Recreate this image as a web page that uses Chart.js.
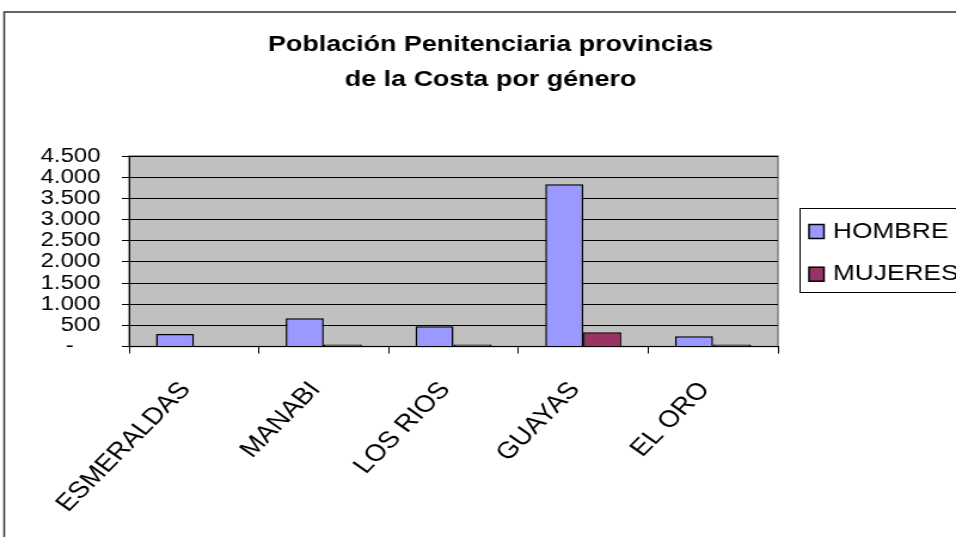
<!DOCTYPE html>
<html lang="es">
<head>
<meta charset="utf-8">
<title>Población Penitenciaria provincias de la Costa por género</title>
<script src="https://cdn.jsdelivr.net/npm/chart.js@4.4.1/dist/chart.umd.min.js"></script>
<style>
  html, body { margin: 0; padding: 0; background: #fff; }
  #chart { display: block; }
</style>
</head>
<body>
<!-- el lienzo se dibuja a 800px y se estira a 956px, igual que la imagen original -->
<canvas id="chart" width="800" height="537" style="width:956px;height:537px"></canvas>
<script>
// ── Datos ────────────────────────────────────────────────────────────────────
const PROVINCIAS = ['ESMERALDAS', 'MANABI', 'LOS RIOS', 'GUAYAS', 'EL ORO'];
const SERIES     = ['HOMBRE', 'MUJERES'];
const HOMBRE     = [295, 666, 477, 3832, 241];
const MUJERES    = [0, 50, 45, 335, 45];
const TITULO     = ['Población Penitenciaria provincias', 'de la Costa por género'];
const Y_MIN = 0;
const Y_MAX = 4500;
const Y_PASO = 500;

// ── Estilo ───────────────────────────────────────────────────────────────────
const FONT          = "'Liberation Sans', Arial, sans-serif";
const COLOR_HOMBRE  = '#9999ff';
const COLOR_MUJERES = '#993366';
const FONDO_PLOT    = '#c0c0c0';

// miles con punto, cero como guion (formato contable)
function formatoMiles(v) {
  if (v === 0) return '-    ';
  return String(v).replace(/\B(?=(\d{3})+(?!\d))/g, '.');
}

// ── Marco, fondo gris, título y leyenda ─────────────────────────────────────
const marcoPlugin = {
  id: 'marco',
  beforeDraw: function (chart) {
    var ctx = chart.ctx, a = chart.chartArea;
    ctx.save();
    ctx.fillStyle = '#fff';
    ctx.fillRect(0, 0, chart.width, chart.height);

    ctx.strokeStyle = '#333';
    ctx.lineWidth = 1.5;
    ctx.beginPath();
    ctx.moveTo(3.5, chart.height);
    ctx.lineTo(3.5, 12);
    ctx.lineTo(chart.width, 12);
    ctx.stroke();

    ctx.fillStyle = FONDO_PLOT;
    ctx.fillRect(a.left, a.top, a.right - a.left, a.bottom - a.top);
    ctx.strokeStyle = '#808080';
    ctx.lineWidth = 1.5;
    ctx.strokeRect(a.left, a.top, a.right - a.left, a.bottom - a.top);
    ctx.restore();
  },
  afterDraw: function (chart) {
    var ctx = chart.ctx;
    ctx.save();
    ctx.fillStyle = '#000';
    ctx.textAlign = 'center';
    ctx.textBaseline = 'alphabetic';
    ctx.font = 'bold 22.5px ' + FONT;
    TITULO.forEach(function (linea, i) {
      ctx.fillText(linea, 410.5, 50.7 + i * 35.5);
    });

    // leyenda
    ctx.strokeStyle = '#000';
    ctx.lineWidth = 1;
    ctx.strokeRect(669.5, 208.5, 200, 84);
    ctx.textAlign = 'left';
    ctx.font = '22px ' + FONT;
    chart.data.datasets.forEach(function (ds, i) {
      var base = 237.5 + i * 42.7;
      ctx.fillStyle = ds.backgroundColor;
      ctx.fillRect(677, base - 13, 12.5, 14);
      ctx.lineWidth = 1.5;
      ctx.strokeRect(677, base - 13, 12.5, 14);
      ctx.fillStyle = '#000';
      ctx.fillText(ds.label, 697, base);
    });
    ctx.restore();
  },
};

new Chart(document.getElementById('chart'), {
  type: 'bar',
  data: {
    labels: PROVINCIAS,
    datasets: [
      {
        label: SERIES[0], data: HOMBRE,
        backgroundColor: COLOR_HOMBRE, borderColor: '#000', borderWidth: 1.5,
        categoryPercentage: 0.586, barPercentage: 1,
      },
      {
        label: SERIES[1], data: MUJERES,
        backgroundColor: COLOR_MUJERES, borderColor: '#000', borderWidth: 1.5,
        categoryPercentage: 0.586, barPercentage: 1,
      },
    ],
  },
  options: {
    responsive: false,
    devicePixelRatio: 1,
    animation: false,
    layout: { padding: { top: 156, right: 149, left: 0, bottom: 0 } },
    plugins: {
      legend:  { display: false },
      title:   { display: false },
      tooltip: { enabled: false },
    },
    scales: {
      x: {
        afterFit: function (s) { s.height = 190.5; },
        grid:   { offset: true, drawOnChartArea: false, drawTicks: true, tickLength: 7, color: '#000' },
        border: { display: true, color: '#000', width: 1 },
        ticks: {
          minRotation: 50, maxRotation: 50, autoSkip: false, padding: 23, labelOffset: -7,
          color: '#000', font: { family: FONT, size: 23.5 },
        },
      },
      y: {
        min: Y_MIN, max: Y_MAX,
        afterFit: function (s) { s.width = 108; },
        grid:   { color: '#000', lineWidth: 1, drawTicks: true, tickLength: 6 },
        border: { display: true, color: '#000', width: 1 },
        ticks: {
          stepSize: Y_PASO, padding: 18, autoSkip: false, color: '#000',
          font: { family: FONT, size: 20 },
          callback: function (v) { return formatoMiles(v); },
        },
      },
    },
  },
  plugins: [marcoPlugin],
});
</script>
</body>
</html>
